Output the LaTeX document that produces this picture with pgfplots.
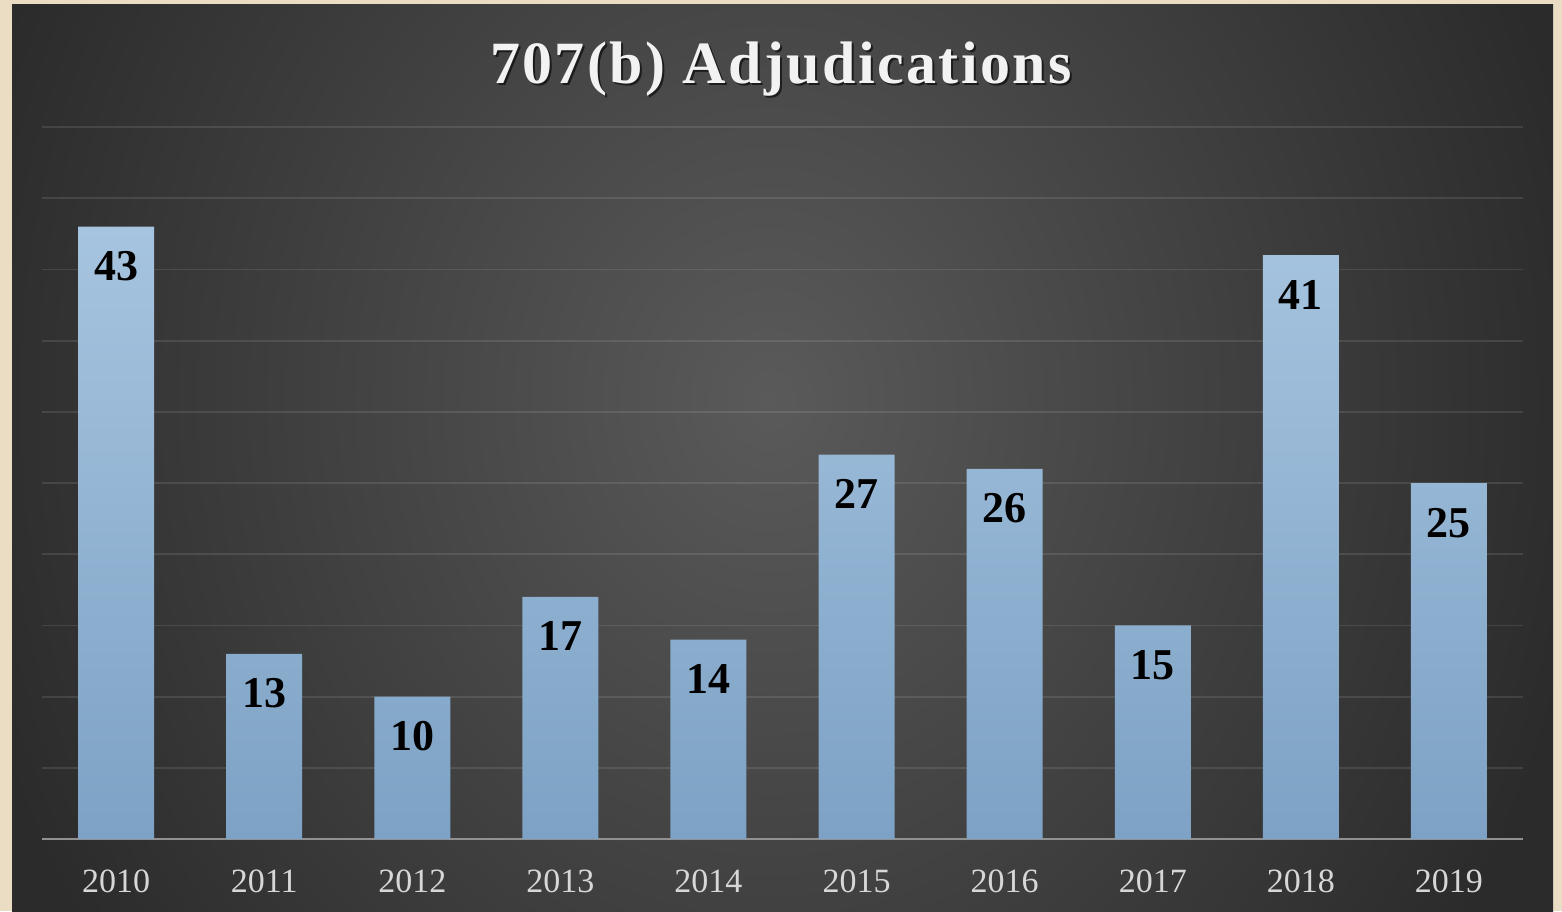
\documentclass[border=0pt]{standalone}
\usepackage{fontspec}
\setmainfont{Liberation Serif}
\usepackage{pgfplots}
\pgfplotsset{compat=1.18}
\definecolor{beige}{RGB}{234,221,196}
\definecolor{bgin}{RGB}{90,90,90}
\definecolor{bgout}{RGB}{43,43,43}
\definecolor{bartop}{RGB}{166,196,223}
\definecolor{barbot}{RGB}{125,162,197}
\definecolor{ticklab}{RGB}{215,215,215}
\definecolor{axisc}{RGB}{145,145,145}
\begin{document}
\begin{tikzpicture}[x=1pt,y=1pt]
\fill[beige] (0,0) rectangle (781,455.5);
\begin{scope}
\clip (6,0) rectangle (776.5,453);
\fill[bgout] (6,0) rectangle (776.5,453);
\shade[inner color=bgin, outer color=bgout] (-30,-219.5) rectangle (800,730.5);
\end{scope}
\begin{axis}[
  at={(21pt,36pt)}, anchor=south west,
  scale only axis, width=740.5pt, height=356pt,
  xmin=-0.5, xmax=9.5, ymin=0, ymax=50,
  enlargelimits=false, clip=false,
  axis x line*=bottom, axis y line*=left,
  x axis line style={axisc, line width=1.2pt, -},
  y axis line style={draw=none},
  ytick={5,10,...,50}, yticklabel=\empty,
  ymajorgrids, grid style={white, opacity=0.1, line width=0.9pt},
  xtick=data,
  xticklabels={2010,2011,2012,2013,2014,2015,2016,2017,2018,2019},
  major tick length=0,
  xticklabel style={font=\fontsize{17}{17}\selectfont, text=ticklab, anchor=base, yshift=-26.5pt},
  ybar, bar width=38pt,
  nodes near coords,
  /pgf/number format/assume math mode=true,
  nodes near coords style={font=\fontsize{22}{22}\selectfont\bfseries, text=black, anchor=base, yshift=-27pt},
]
\addplot[draw=none, top color=bartop, bottom color=barbot] coordinates {
(0,43) (1,13) (2,10) (3,17) (4,14) (5,27) (6,26) (7,15) (8,41) (9,25)};
\end{axis}
\node[anchor=base, font=\fontsize{30}{30}\selectfont\bfseries\addfontfeature{LetterSpace=4}, text=black, opacity=0.6] at (391.5,412.5) {707(b) Adjudications};
\node[anchor=base, font=\fontsize{30}{30}\selectfont\bfseries\addfontfeature{LetterSpace=4}, text=white!95!black] at (390.5,413.5) {707(b) Adjudications};
\end{tikzpicture}
\end{document}
